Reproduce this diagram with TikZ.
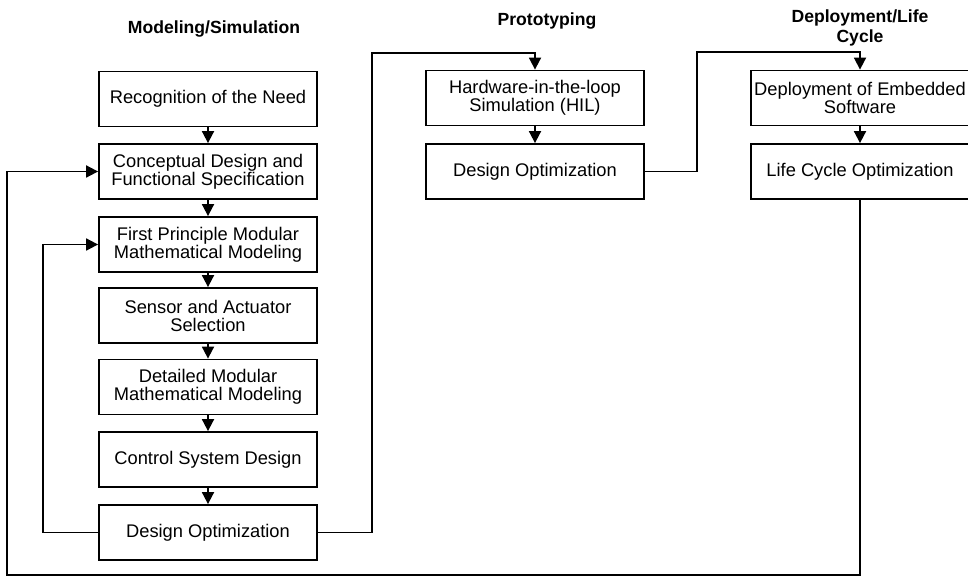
\documentclass[tikz,border=0pt]{standalone}
\usepackage{fontspec}
\setmainfont{Liberation Sans}
\usetikzlibrary{arrows.meta}
\begin{document}
\begin{tikzpicture}[x=1pt,y=-1pt,
  box/.style={draw, line width=1.8pt, minimum width=218pt, minimum height=55pt, align=center,
    font=\fontsize{18.3}{18}\selectfont, inner sep=0pt},
  tightbox/.style={box, font=\fontsize{18.3}{14}\selectfont},
  ttl/.style={font=\fontsize{17.6}{20}\selectfont\bfseries, align=center},
  conn/.style={line width=1.8pt},
  arr/.style={conn, -{Triangle[length=12pt,width=12pt]}}
]
\useasboundingbox (0,0) rectangle (968,577);
\fill[white] (0,0) rectangle (968,577);

% titles
\node[ttl] (tm) at (214,29) {Modeling/Simulation};
\node[ttl] (tp) at (547,21) {Prototyping};
\node[ttl] (td) at (860,28) {Deployment/Life\\Cycle};

% left column
\node[box] (rec) at (208,99) {Recognition of the Need};
\node[box] (con) at (208,171.5) {Conceptual Design and\\Functional Specification};
\node[box] (fpm) at (208,244.5) {First Principle Modular\\Mathematical Modeling};
\node[box] (sas) at (208,315.5) {Sensor and Actuator\\Selection};
\node[box] (dmm) at (208,387) {Detailed Modular\\Mathematical Modeling};
\node[box] (csd) at (208,459.5) {Control System Design};
\node[box] (dopt) at (208,532.5) {Design Optimization};

% middle column
\node[tightbox] (hil) at (535,98) {Hardware-in-the-loop\\Simulation (HIL)};
\node[box] (dopt2) at (535,171.5) {Design Optimization};

% right column
\node[tightbox] (dep) at (860,98) {Deployment of Embedded\\Software};
\node[box] (lco) at (860,171.5) {Life Cycle Optimization};

% chain arrows
\draw[arr] (rec) -- (con);
\draw[arr] (con) -- (fpm);
\draw[arr] (fpm) -- (sas);
\draw[arr] (sas) -- (dmm);
\draw[arr] (dmm) -- (csd);
\draw[arr] (csd) -- (dopt);
\draw[arr] (hil) -- (dopt2);
\draw[arr] (dep) -- (lco);

% feedback loops
\coordinate (fl) at (43,532.5);
\draw[arr] (dopt.west) -- (fl) |- (fpm.west);
\coordinate (bl) at (7,575);
\draw[arr] (lco.south) |- (bl) |- (con.west);

% forward connections
\coordinate (t1) at (372,53);
\draw[arr] (dopt.east) -| (t1) -| (hil.north);
\coordinate (t2) at (697,52);
\draw[arr] (dopt2.east) -| (t2) -| (dep.north);
\end{tikzpicture}
\end{document}
